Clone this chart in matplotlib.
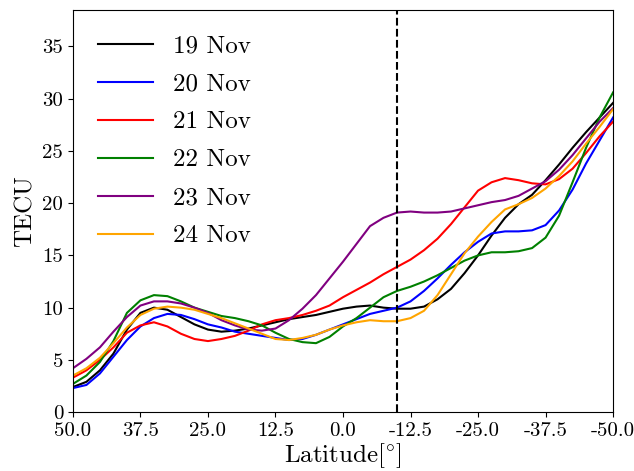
import numpy as np
import matplotlib
matplotlib.use("Agg")
import matplotlib.pyplot as plt

# latitude grid (degrees), 2.5 deg steps from 50 to -50
lat = np.linspace(50, -50, 41)

nov19 = [2.4, 2.9, 4.0, 5.6, 7.9, 9.5, 10.0, 9.8, 9.1, 8.4, 7.9, 7.7, 7.8, 8.0, 8.3, 8.6, 8.9, 9.1, 9.3, 9.6,
         9.9, 10.1, 10.2, 10.0, 9.9, 9.9, 10.1, 10.8, 11.8, 13.3, 15.0, 16.9, 18.6, 19.9, 20.8, 22.2, 23.7,
         25.3, 26.8, 28.2, 29.6]
nov20 = [2.3, 2.6, 3.7, 5.3, 6.9, 8.2, 9.0, 9.4, 9.3, 8.9, 8.4, 8.1, 7.7, 7.5, 7.3, 7.1, 6.9, 7.0, 7.4, 7.9,
         8.4, 8.9, 9.4, 9.7, 10.0, 10.6, 11.6, 12.8, 14.1, 15.3, 16.3, 17.1, 17.3, 17.3, 17.4, 17.9, 19.3,
         21.3, 23.8, 26.0, 28.2]
nov21 = [3.3, 4.0, 5.0, 6.2, 7.6, 8.3, 8.6, 8.2, 7.5, 7.0, 6.8, 7.0, 7.3, 7.8, 8.4, 8.8, 9.0, 9.3, 9.7, 10.2,
         11.0, 11.7, 12.4, 13.2, 13.9, 14.6, 15.5, 16.6, 18.0, 19.6, 21.2, 22.0, 22.4, 22.2, 21.9, 21.8, 22.3,
         23.3, 24.8, 26.4, 27.8]
nov22 = [2.7, 3.5, 4.8, 6.8, 9.5, 10.7, 11.2, 11.1, 10.6, 10.0, 9.6, 9.2, 9.0, 8.7, 8.3, 7.6, 7.0, 6.7, 6.6, 7.2,
         8.2, 9.0, 10.0, 11.0, 11.6, 12.0, 12.5, 13.1, 13.8, 14.5, 15.0, 15.3, 15.3, 15.4, 15.7, 16.7, 18.8,
         22.0, 25.3, 28.2, 30.6]
nov23 = [4.2, 5.1, 6.2, 7.7, 9.1, 10.2, 10.6, 10.6, 10.4, 10.0, 9.5, 8.8, 8.3, 7.9, 7.8, 8.0, 8.8, 9.9, 11.2, 12.8,
         14.4, 16.1, 17.8, 18.6, 19.1, 19.2, 19.1, 19.1, 19.2, 19.5, 19.8, 20.1, 20.3, 20.7, 21.4, 22.1, 23.2,
         24.6, 26.2, 27.8, 29.1]
nov24 = [3.5, 4.2, 5.2, 6.6, 8.1, 9.3, 9.9, 10.1, 10.0, 9.8, 9.4, 9.0, 8.5, 8.0, 7.5, 7.0, 6.9, 7.1, 7.4, 7.9,
         8.3, 8.6, 8.8, 8.7, 8.7, 9.0, 9.7, 11.2, 13.2, 15.2, 16.8, 18.2, 19.4, 19.9, 20.5, 21.4, 22.6,
         24.0, 25.7, 27.3, 29.0]

days = ['19 Nov', '20 Nov', '21 Nov', '22 Nov', '23 Nov', '24 Nov']
colors = ['black', 'blue', 'red', 'green', 'purple', 'orange']
xticks = [50.0, 37.5, 25.0, 12.5, 0.0, -12.5, -25.0, -37.5, -50.0]
storm_lat = -10

plt.rcParams['font.family'] = 'serif'
plt.rcParams['font.serif'] = ['cmr10']
plt.rcParams['mathtext.fontset'] = 'cm'

fig = plt.figure(figsize=(6.34, 4.71), dpi=100)
ax = fig.add_axes([0.115, 0.125, 0.852, 0.854])

for series, day, c in zip([nov19, nov20, nov21, nov22, nov23, nov24], days, colors):
    ax.plot(lat, series, color=c, lw=1.5, label=day)

ax.axvline(storm_lat, color='black', ls='--', lw=1.5)

ax.set_xlim(50, -50)
ax.set_ylim(0, 38.5)
ax.set_xticks(xticks)
ax.set_xticklabels([f'{t:.1f}' for t in xticks])
ax.set_yticks([0, 5, 10, 15, 20, 25, 30, 35])
ax.tick_params(labelsize=15)
ax.set_xlabel(r'Latitude[$^{\circ}$]', fontsize=18, labelpad=1)
ax.set_ylabel('TECU', fontsize=18)
ax.legend(loc='upper left', fontsize=18, frameon=False, handlelength=2.2,
          labelspacing=0.62, borderaxespad=0.6)

fig.savefig('out.png', dpi=100)
